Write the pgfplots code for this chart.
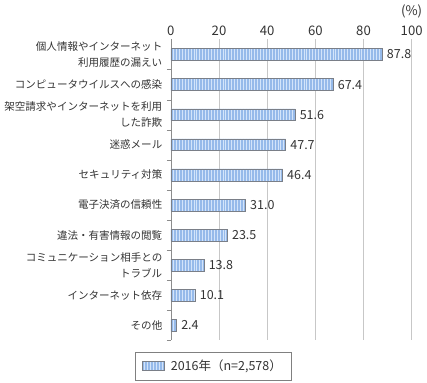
\documentclass[border=0pt]{standalone}
\usepackage{fontspec}
\setmainfont{Noto Sans CJK JP}
\usepackage{pgfplots}
\pgfplotsset{compat=1.18}
\usetikzlibrary{patterns.meta}
\definecolor{barfill}{HTML}{96BAEA}
\definecolor{barline}{HTML}{D3E4FA}
\definecolor{barborder}{HTML}{7A7F88}
\definecolor{txt}{HTML}{333333}
\begin{document}
\begin{tikzpicture}
\begin{axis}[
  name=ax, at={(0,0)}, anchor=south west,
  xbar, scale only axis,
  width=183pt, height=228.75pt,
  xmin=0, xmax=100, ymin=-0.5, ymax=9.5,
  y dir=reverse,
  axis x line*=top, axis y line*=left,
  x axis line style={draw=none},
  y axis line style={draw=black!45},
  xtick={0,20,40,60,80,100},
  xmajorgrids, grid style={black!22},
  ytick={0,...,9},
  minor ytick={0.5,1.5,...,9.5},
  major tick length=0pt, minor tick length=3pt,
  minor y tick style={draw=black!45},
  yticklabels={{個人情報やインターネット\\利用履歴の漏えい},{コンピュータウイルスへの感染},{架空請求やインターネットを利用\\した詐欺},{迷惑メール},{セキュリティ対策},{電子決済の信頼性},{違法・有害情報の閲覧},{コミュニケーション相手との\\トラブル},{インターネット依存},{その他}},
  yticklabel style={align=right, font=\fontsize{8}{12.5}\selectfont, text=txt, xshift=-3pt},
  xticklabel style={font=\fontsize{10}{12}\selectfont, text=txt, yshift=-1pt},
  /pgf/number format/assume math mode=true,
  bar width=9pt,
  nodes near coords,
  nodes near coords style={font=\fontsize{9.5}{11}\selectfont, text=txt, /pgf/number format/.cd, fixed, fixed zerofill, precision=1},
  legend style={at={(0.176,-0.085)}, anchor=center, draw=black!50, font=\fontsize{9.5}{11}\selectfont, text=txt, inner xsep=5pt, inner ysep=4pt},
  legend cell align=left,
  legend image code/.code={\draw[#1] (0pt,-3.4pt) rectangle (16.5pt,3.4pt);},
  legend style={/tikz/every odd column/.style={xshift=2pt}},
]
\addplot[fill=barfill, draw=barborder, postaction={pattern={Lines[angle=90,distance=2.2pt,line width=0.55pt]}, pattern color=barline}]
  coordinates {(87.8,0) (67.4,1) (51.6,2) (47.7,3) (46.4,4) (31.0,5) (23.5,6) (13.8,7) (10.1,8) (2.4,9)};
\addlegendentry{\hspace{3pt}2016年（n=2,578）}
\end{axis}
\node[font=\fontsize{10}{12}\selectfont, text=txt, anchor=south] at ([yshift=13pt]ax.north east) {(\%)};
\path ([xshift=-129pt, yshift=24.75pt]ax.north west) rectangle ([xshift=8.25pt, yshift=-32.25pt]ax.south east);
\end{tikzpicture}
\end{document}
